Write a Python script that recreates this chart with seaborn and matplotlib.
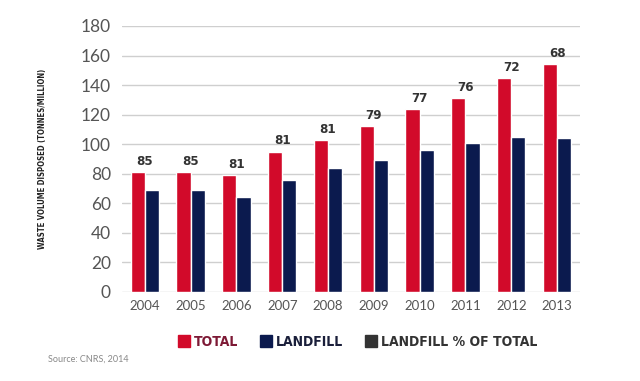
import pandas as pd
import matplotlib.pyplot as plt
import seaborn as sns
from matplotlib.lines import Line2D

# values
years = ["2004", "2005", "2006", "2007", "2008", "2009", "2010", "2011", "2012", "2013"]
total = [81, 81, 79, 95, 103, 112, 124, 131, 145, 154]
landfill = [69, 69, 64, 76, 84, 89, 96, 101, 105, 104]
landfill_pct = [85, 85, 81, 81, 81, 79, 77, 76, 72, 68]

series_names = ["TOTAL", "LANDFILL"]
colors = ["#d20a2a", "#0b1a4e"]

df = pd.DataFrame({
    "year": years * 2,
    "value": total + landfill,
    "series": ["TOTAL"] * len(years) + ["LANDFILL"] * len(years),
})

sns.set_theme(style="white")
cond = ["DejaVu Sans", "Liberation Sans"]
light = ["Lato", "DejaVu Sans"]

fig = plt.figure(figsize=(6.4, 3.81), dpi=100)
ax = fig.add_axes([0.1906, 0.2336, 0.7156, 0.6982])

sns.barplot(data=df, x="year", y="value", hue="series", hue_order=series_names,
            palette=colors, saturation=1, width=0.62, gap=0, legend=False, ax=ax)

ax.set_ylim(0, 180)
ax.set_xlim(-0.5, len(years) - 0.5)
ax.set_yticks(range(0, 181, 20))
ax.yaxis.grid(True, color="#cfcfcf", linewidth=1)
ax.set_axisbelow(True)
for s in ax.spines.values():
    s.set_visible(False)
ax.tick_params(axis="both", length=0)
ax.tick_params(axis="y", pad=8)
ax.tick_params(axis="x", pad=6)
for lab in ax.get_yticklabels():
    lab.set_family(light)
    lab.set_fontsize(12.5)
    lab.set_color("#555555")
for lab in ax.get_xticklabels():
    lab.set_family(light)
    lab.set_fontsize(9.5)
    lab.set_color("#555555")
ax.set_xlabel("")
ax.set_ylabel("WASTE VOLUME DISPOSED (TONNES/MILLION)", family=cond, fontweight="bold",
              fontstretch="condensed", fontsize=5.6, color="#222222", labelpad=24)

# landfill share labels above each group
for i, (t, p) in enumerate(zip(total, landfill_pct)):
    ax.annotate(str(p), (i, t), xytext=(0, 3), textcoords="offset points",
                ha="center", va="bottom", family=cond, fontweight="bold",
                fontstretch="condensed", fontsize=9.5, color="#333333")

handles = [
    Line2D([], [], marker="s", linestyle="", markersize=8, color=colors[0]),
    Line2D([], [], marker="s", linestyle="", markersize=8, color=colors[1]),
    Line2D([], [], marker="s", linestyle="", markersize=8, color="#333333"),
]
leg = fig.legend(handles, ["TOTAL", "LANDFILL", "LANDFILL % OF TOTAL"], loc="center",
                 bbox_to_anchor=(0.558, 0.102), ncol=3, frameon=False,
                 handletextpad=0.2, columnspacing=1.5, handlelength=1.0,
                 prop={"family": cond, "weight": "bold", "stretch": "condensed", "size": 10})
for txt, c in zip(leg.get_texts(), ["#7d1935", "#1a1f3a", "#333333"]):
    txt.set_color(c)

fig.text(0.075, 0.05, "Source: CNRS, 2014", family=light,
         fontsize=6.5, color="#888888")

fig.savefig("out.png", dpi=100)
